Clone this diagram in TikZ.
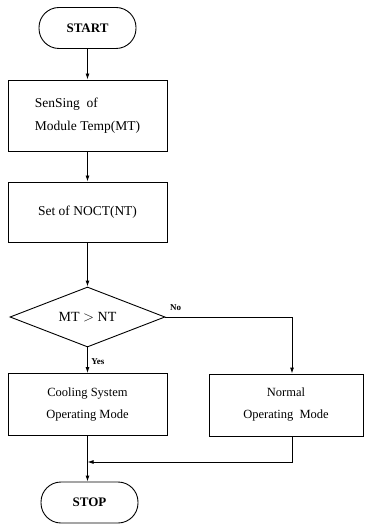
\documentclass[tikz,border=0pt]{standalone}
\usepackage{fontspec}
\setmainfont{Liberation Serif}
\usetikzlibrary{shapes.geometric,arrows.meta}
\begin{document}
\begin{tikzpicture}[x=1pt,y=-1pt,line width=0.9pt,
  term/.style={rectangle,draw,rounded corners=20pt,minimum width=97pt,minimum height=41pt,font=\fontsize{13}{15}\selectfont\bfseries},
  box/.style={rectangle,draw,minimum width=159pt,align=center,font=\fontsize{13.5}{23}\selectfont},
  dec/.style={diamond,draw,aspect=2.6,inner sep=0pt,minimum width=155pt,minimum height=60pt,font=\fontsize{14}{16}\selectfont},
  e/.style={draw,-{Latex[length=6pt,width=4pt]}},
  t/.style={font=\fontsize{9}{10}\selectfont\bfseries}]
\useasboundingbox (0,0) rectangle (366,526);

\node[term] (start) at (87.5, 28) {START};
\node[box, minimum height=71pt, align=left] (sense) at (87.5, 115.5) {SenSing\ \ of\\Module Temp(MT)};
\node[box, minimum height=60pt] (noct) at (87.5, 212) {Set of NOCT(NT)};
\node[dec] (cmp) at (87.5, 317) {MT $>$ NT};
\node[box, minimum height=62pt, font=\fontsize{12.5}{22}\selectfont] (cool) at (87.5, 404.5) {Cooling System\\Operating Mode};
\node[box, minimum width=154pt, minimum height=62pt, font=\fontsize{12.5}{22}\selectfont] (norm) at (286, 405) {Normal\\Operating\ \ Mode};
\node[term] (stop) at (89.5, 502.5) {STOP};
\coordinate (nr) at (292, 317);
\coordinate (jr) at (292, 462);
\coordinate (jl) at (87.5, 462);

\path[e] (start) -- (sense);
\path[e] (sense) -- (noct);
\path[e] (noct) -- (cmp);
\path[e] (cmp) -- (cool) node[t, pos=0.55, right] {Yes};
\path[e] (cmp.east) -- (nr) node[t, pos=0.08, above=3pt] {No} -- (nr |- norm.north);
\path[e] (nr |- norm.south) -- (jr) -- (jl);
\path[e] (cool) -- (cool |- stop.north);

\end{tikzpicture}
\end{document}
